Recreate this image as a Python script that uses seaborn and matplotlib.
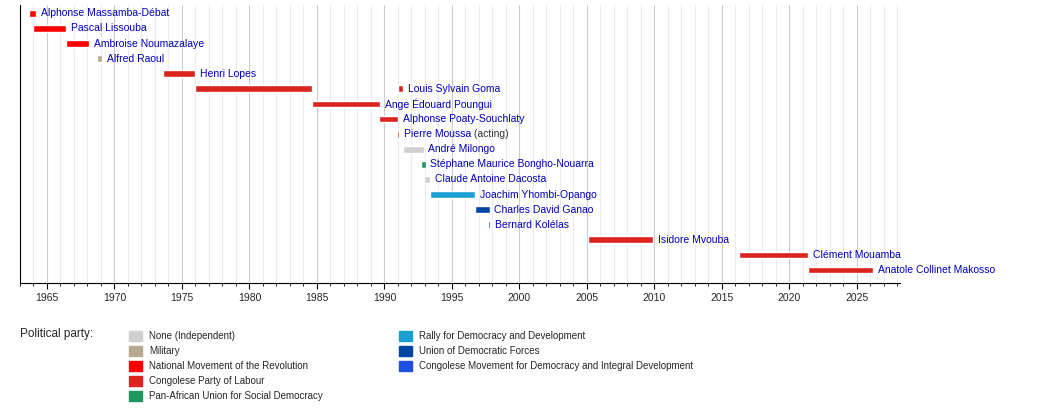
import matplotlib
matplotlib.use("Agg")
import matplotlib.pyplot as plt
import seaborn as sns
from matplotlib.patches import Patch

names = ["Alphonse Massamba-Débat", "Pascal Lissouba", "Ambroise Noumazalaye", "Alfred Raoul",
         "Henri Lopes", "Louis Sylvain Goma", "Ange Édouard Poungui", "Alphonse Poaty-Souchlaty",
         "Pierre Moussa", "André Milongo", "Stéphane Maurice Bongho-Nouarra", "Claude Antoine Dacosta",
         "Joachim Yhombi-Opango", "Charles David Ganao", "Bernard Kolélas", "Isidore Mvouba",
         "Clément Mouamba", "Anatole Collinet Makosso"]
notes = ["", "", "", "", "", "", "", "", " (acting)", "", "", "", "", "", "", "", "", ""]
# terms: (row, start, end, party)
term_row = [0, 1, 2, 3, 4, 5, 5, 6, 7, 8, 9, 10, 11, 12, 13, 14, 15, 16, 17]
term_start = [1963.7, 1963.95, 1966.4, 1968.7, 1973.6, 1975.95, 1991.0, 1984.6, 1989.6, 1990.95,
              1991.4, 1992.7, 1992.9, 1993.4, 1996.7, 1997.7, 2005.1, 2016.3, 2021.4]
term_end = [1964.2, 1966.4, 1968.1, 1969.1, 1976.0, 1984.6, 1991.4, 1989.7, 1991.0, 1991.1,
            1992.9, 1993.05, 1993.4, 1996.7, 1997.8, 1997.85, 2009.9, 2021.4, 2026.2]
term_party = ["MNR", "MNR", "MNR", "MIL", "PCT", "PCT", "PCT", "PCT", "PCT", "PCT",
              "IND", "UPADS", "IND", "RDD", "UFD", "UFD", "PCT", "PCT", "PCT"]
parties = ["IND", "MIL", "MNR", "PCT", "UPADS", "RDD", "UFD", "MCDDI"]
party_labels = ["None (Independent)", "Military", "National Movement of the Revolution",
                "Congolese Party of Labour", "Pan-African Union for Social Democracy",
                "Rally for Democracy and Development", "Union of Democratic Forces",
                "Congolese Movement for Democracy and Integral Development"]
party_colors = ["#d0d0d0", "#b5a990", "#ff0000", "#dc241f", "#1e9660", "#1aa0d0", "#0046a0", "#2050e0"]
cmap = dict(zip(parties, party_colors))

sns.set_style("white")
plt.rcParams['font.family'] = ['Liberation Sans', 'DejaVu Sans']
fig = plt.figure(figsize=(10.5, 4.12), dpi=100)
ax = fig.add_axes([20/1050, 1-283/412, 880/1050, 278/412])
ax.set_xlim(1963.0, 2028.2)
ax.set_ylim(17.86, -0.55)

for yr in range(1963, 2029):
    ax.axvline(yr, color="#cccccc" if yr % 5 == 0 else "#ececec", lw=0.8, zorder=0)

for r, s, e, p in zip(term_row, term_start, term_end, term_party):
    ax.barh(r, e - s, left=s, height=0.45, color=cmap[p], zorder=2)

last_end = {}
for r, e in zip(term_row, term_end):
    last_end[r] = max(last_end.get(r, 0), e)
for i, (n, note) in enumerate(zip(names, notes)):
    t = ax.text(last_end[i] + 0.35, i, n, color="#0000bb", fontsize=7.5, va="center", ha="left")
    if note:
        ax.annotate(note, xycoords=t, xy=(1, 0.5), va="center", ha="left", fontsize=7.5, color="#333333")

for sp in ["top", "right"]:
    ax.spines[sp].set_visible(False)
ax.spines["left"].set_color("black")
ax.spines["bottom"].set_color("black")
ax.set_yticks([])
ax.set_xticks(range(1965, 2030, 5))
ax.set_xticks(range(1963, 2029), minor=True)
ax.tick_params(axis="x", which="major", length=4, labelsize=7.5, color="black", bottom=True)
ax.tick_params(axis="x", which="minor", length=2, color="black", bottom=True)

fig.text(20/1050, 1-334/412, "Political party:", fontsize=8.5, va="center")
h = [Patch(color=c) for c in party_colors]
kw = dict(frameon=False, fontsize=7, handlelength=1.3, handleheight=1.3, labelspacing=0.45,
          handletextpad=0.8, borderaxespad=0, loc="upper left")
l1 = fig.legend(h[:5], party_labels[:5], bbox_to_anchor=(125/1050, 1-327/412), **kw)
fig.legend(h[5:], party_labels[5:], bbox_to_anchor=(395/1050, 1-327/412), **kw)
fig.savefig("out.png", dpi=100)
